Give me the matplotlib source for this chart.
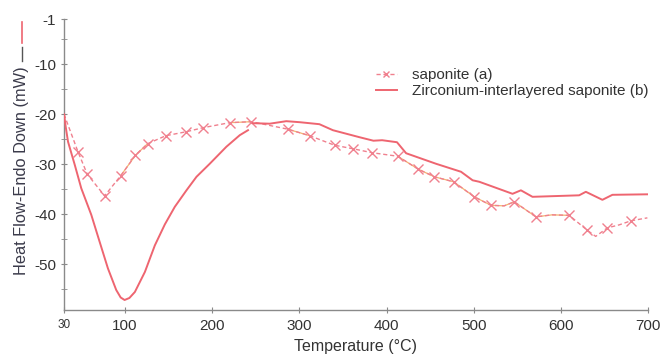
import matplotlib
matplotlib.use("Agg")
import matplotlib.pyplot as plt
from matplotlib.lines import Line2D
import numpy as np

plt.rcParams["font.family"] = ["Liberation Sans", "DejaVu Sans"]
plt.rcParams["axes.unicode_minus"] = False

# saponite (a) - dashed with x markers
sap_t = [30, 46, 56.7, 76.6, 95, 112, 125.9, 146.8, 170.5, 189.5, 220, 245,
         286.9, 311.8, 340.4, 361.4, 383.6, 412.9, 436.6, 454.9, 477, 500.7,
         519.9, 535, 546.6, 571.4, 590, 609.6, 630.5, 640, 653.4, 667, 680.2, 699.3]
sap_v = [-20, -27.5, -32, -36.3, -32.3, -28.2, -25.9, -24.3, -23.5, -22.7, -21.7, -21.5,
         -23, -24.3, -26.2, -26.9, -27.7, -28.4, -31, -32.5, -33.5, -36.5,
         -38.2, -38.3, -37.5, -40.5, -40.1, -40.2, -43.2, -44.4, -42.7, -42.1, -41.3, -40.7]
sap_marks = [1, 2, 3, 4, 5, 6, 7, 8, 9, 10, 11, 12, 13, 14, 15, 16, 17, 18, 19,
             20, 21, 22, 24, 25, 27, 28, 30, 32]

# zirconium-interlayered saponite (b) - solid
zr_t = [30, 32, 34.6, 42.3, 49.8, 61.3, 70.9, 80.4, 89.9, 95, 99.5, 105, 111.3, 122.8, 134.2,
        145.7, 157.1, 170.5, 182, 197.2, 216.3, 231.6, 241.1, np.nan, 246.5, 266,
        285, 300.3, 323, 338.5, 369, 385, 395, 412, 422.5, 456.8, 485.5, 498.8,
        506.5, 544.6, 554.2, 567.5, 621, 628.7, 647.7, 659.2, 699.3]
zr_v = [-20, -22.6, -25.5, -30.1, -34.8, -40.1, -45.5, -50.8, -55.1, -56.6, -57.1, -56.7, -55.5, -51.5, -46.2,
        -42, -38.5, -35.2, -32.5, -29.9, -26.5, -24.2, -23.2, np.nan, -21.8, -21.9,
        -21.4, -21.6, -22, -23.2, -24.6, -25.3, -25.2, -25.6, -27.8, -29.9, -31.5, -33.2,
        -33.5, -35.9, -35.2, -36.5, -36.2, -35.5, -37.1, -36.1, -36]

x_ticks = [30, 100, 200, 300, 400, 500, 600, 700]
y_ticks = [-1, -10, -20, -30, -40, -50]

pink = "#f0808e"
red = "#ee6570"
orange = "#f0a24e"
gray = "#8a8a8a"
txt = "#333333"

fig = plt.figure(figsize=(6.71, 3.56), dpi=100)
ax = fig.add_axes([0.0954, 0.1306, 0.8703, 0.816])

ax.plot(sap_t, sap_v, color=pink, lw=1.0, ls=(0, (3, 2)), marker="x", ms=7,
        mew=1.0, markevery=sap_marks, label="saponite (a)", zorder=3)
# orange tinted stretches of the saponite trace
sap_t_arr = np.array(sap_t)
sap_v_arr = np.array(sap_v)
for lo, hi in [(95, 126), (215, 246), (286, 312), (400, 612)]:
    m = (sap_t_arr >= lo) & (sap_t_arr <= hi)
    ax.plot(sap_t_arr[m], sap_v_arr[m], color=orange, lw=0.9, alpha=0.8, zorder=2)

ax.plot(zr_t, zr_v, color=red, lw=1.4, label="Zirconium-interlayered saponite (b)", zorder=4)

ax.set_xlim(30, 700)
ax.set_ylim(-59, -1)
ax.set_xticks(x_ticks)
ax.set_yticks(y_ticks)
ax.set_yticks([-5, -15, -25, -35, -45, -55], minor=True)

for s in ["top", "right"]:
    ax.spines[s].set_visible(False)
for s in ["left", "bottom"]:
    ax.spines[s].set_color(gray)
    ax.spines[s].set_linewidth(1.0)

ax.tick_params(which="both", direction="inout", color=gray, labelcolor=txt,
               labelsize=11)
ax.tick_params(which="major", length=5)
ax.tick_params(which="minor", length=4)
ax.tick_params(axis="x", pad=4)
ax.tick_params(axis="y", pad=3)
ax.get_xticklabels()[0].set_fontsize(8.5)

ax.set_xlabel("Temperature (°C)", fontsize=11.5, color=txt, labelpad=5)
fig.text(22 / 671, 1 - 171 / 356, "Heat Flow-Endo Down (mW)", rotation=90,
         ha="center", va="center", fontsize=11.8, color="#3a3a4a")
fig.add_artist(Line2D([22 / 671, 22 / 671], [1 - 61 / 356, 1 - 47 / 356],
                      transform=fig.transFigure, color="#555555", lw=1.0))
fig.add_artist(Line2D([22 / 671, 22 / 671], [1 - 43 / 356, 1 - 22 / 356],
                      transform=fig.transFigure, color=red, lw=1.2))

ax.legend(loc="upper left", bbox_to_anchor=(0.51, 0.878), frameon=False,
          fontsize=11, handlelength=1.4, handletextpad=1.0, labelspacing=0.15,
          labelcolor=txt, markerscale=0.6)

fig.savefig("out.png", dpi=100)
